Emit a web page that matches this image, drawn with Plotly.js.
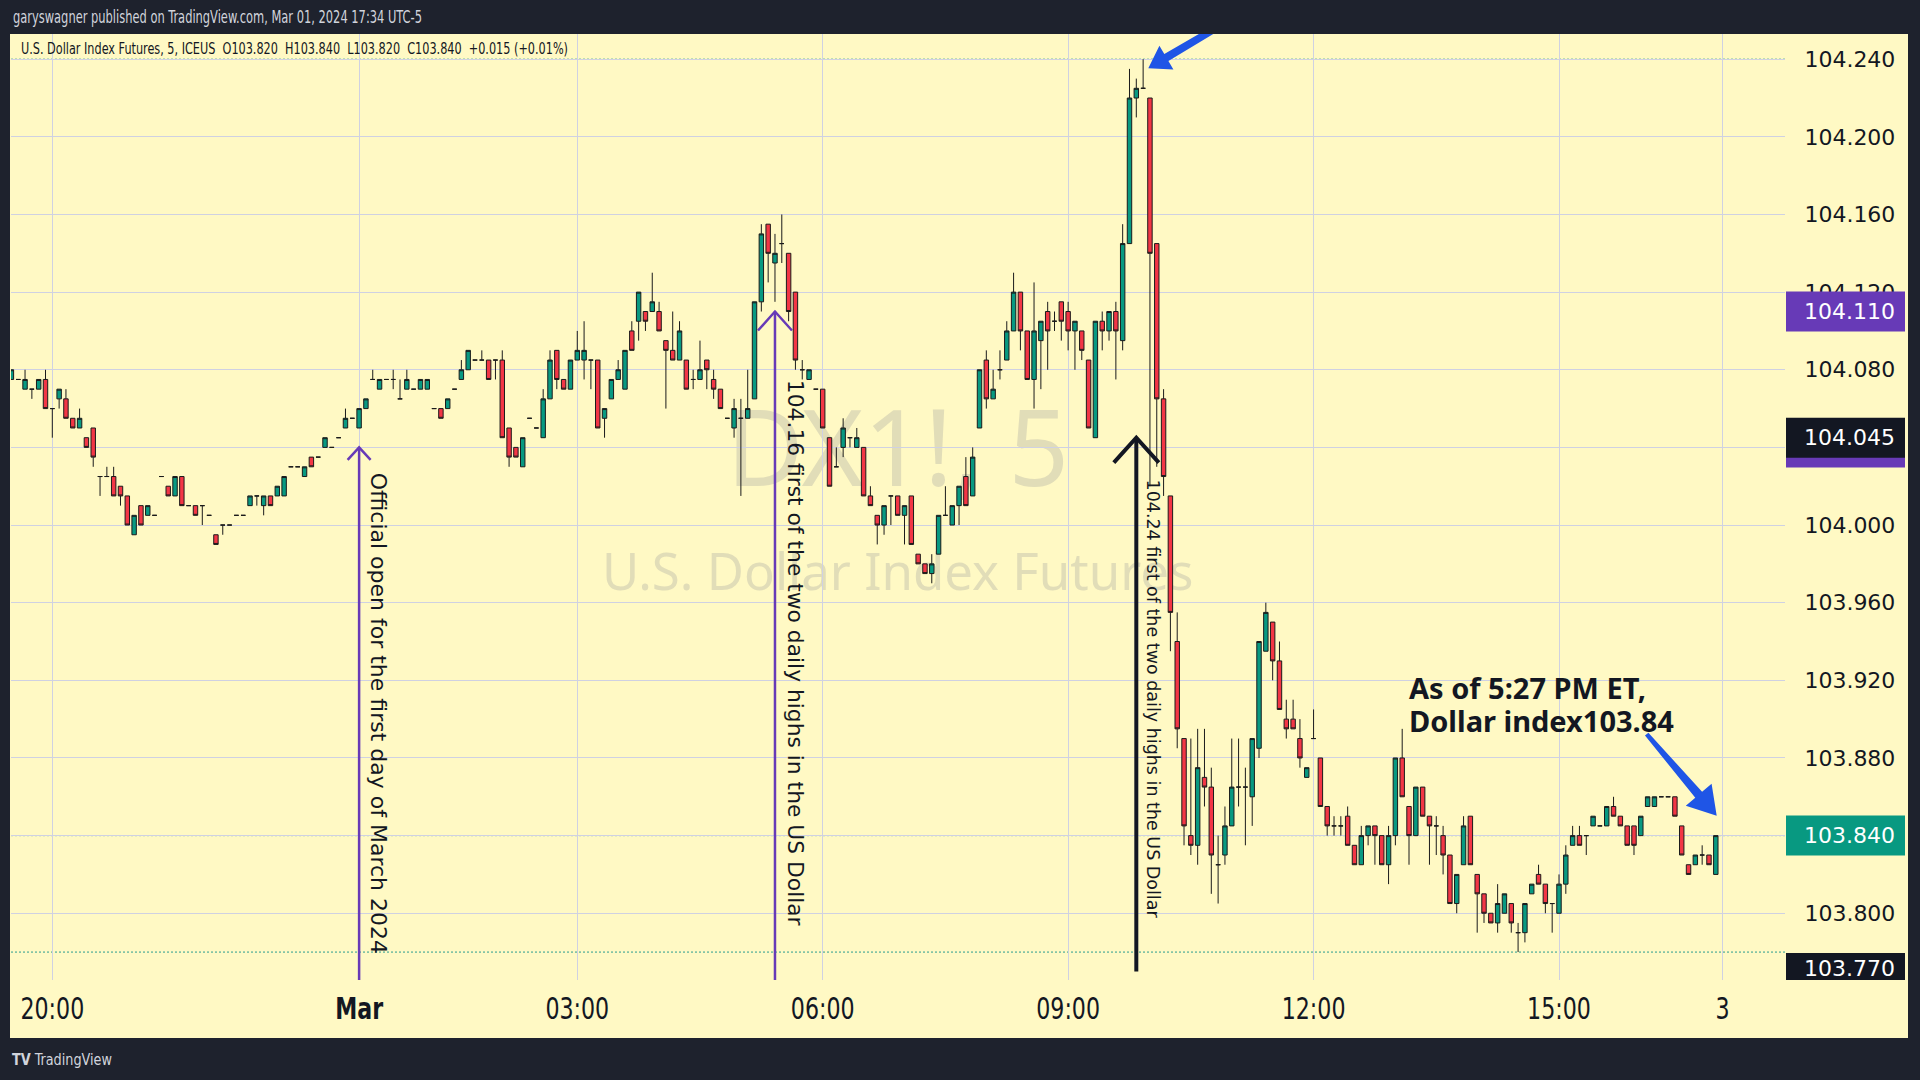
<!DOCTYPE html>
<html><head><meta charset="utf-8">
<script src="https://cdn.plot.ly/plotly-3.0.1.min.js"></script>
<style>html,body{margin:0;padding:0;background:#1e222d;overflow:hidden}#chart{width:1920px;height:1080px}</style>
</head><body><div id="chart"></div>
<script>
// ---- DATA: 5-minute bars, DX1! (U.S. Dollar Index Futures), Feb 29 evening -> Mar 01 2024 ----
const openP = [
104.075,104.075,104.07,104.07,104.07,104.075,104.06,104.065,104.065,104.055,
104.05,104.045,104.05,104.025,104.025,104.025,104.02,104.015,103.995,104.01,
104.005,104.005,104.025,104.02,104.015,104.025,104.01,104.01,104.01,104.005,
103.995,104.00,104.00,104.005,104.005,104.01,104.015,104.01,104.015,104.015,
104.015,104.03,104.03,104.025,104.035,104.035,104.04,104.04,104.045,104.05,
104.055,104.05,104.06,104.075,104.07,104.075,104.075,104.065,104.07,104.07,
104.07,104.07,104.06,104.06,104.06,104.07,104.075,104.08,104.085,104.085,
104.085,104.085,104.085,104.05,104.04,104.03,104.055,104.05,104.045,104.065,
104.09,104.075,104.07,104.085,104.085,104.085,104.085,104.055,104.065,104.075,
104.07,104.10,104.105,104.11,104.11,104.11,104.095,104.09,104.085,104.085,
104.075,104.075,104.085,104.075,104.07,104.055,104.05,104.055,104.055,104.065,
104.115,104.155,104.135,104.145,104.14,104.12,104.08,104.075,104.07,104.07,
104.045,104.03,104.04,104.045,104.04,104.04,104.015,104.005,104.00,104.015,
104.015,104.005,104.015,103.985,103.98,103.975,103.985,104.005,104.00,104.01,
104.025,104.015,104.05,104.085,104.065,104.08,104.085,104.10,104.12,104.10,
104.075,104.095,104.11,104.105,104.115,104.11,104.10,104.10,104.085,104.045,
104.105,104.10,104.11,104.095,104.145,104.22,104.225,104.22,104.145,104.065,
104.015,103.94,103.89,103.84,103.835,103.87,103.865,103.825,103.83,103.845,
103.865,103.865,103.86,103.885,103.935,103.95,103.93,103.90,103.90,103.89,
103.87,103.89,103.88,103.855,103.845,103.845,103.85,103.835,103.825,103.84,
103.845,103.84,103.825,103.84,103.88,103.855,103.84,103.865,103.85,103.845,
103.84,103.83,103.805,103.825,103.85,103.82,103.81,103.80,103.795,103.80,
103.805,103.79,103.79,103.81,103.82,103.815,103.805,103.80,103.815,103.835,
103.84,103.84,103.845,103.845,103.845,103.855,103.85,103.845,103.845,103.84,
103.855,103.855,103.86,103.86,103.86,103.845,103.825,103.825,103.83,103.83,
103.82];
const highP = [
104.08,104.075,104.08,104.07,104.075,104.08,104.06,104.07,104.07,104.055,
104.06,104.045,104.05,104.025,104.03,104.03,104.02,104.015,104.005,104.01,
104.01,104.005,104.025,104.02,104.025,104.025,104.01,104.01,104.01,104.005,
103.995,104.00,104.00,104.005,104.005,104.015,104.015,104.015,104.015,104.02,
104.025,104.03,104.03,104.03,104.035,104.035,104.045,104.04,104.045,104.06,
104.055,104.06,104.065,104.08,104.075,104.075,104.08,104.075,104.08,104.07,
104.075,104.075,104.06,104.06,104.065,104.07,104.085,104.09,104.085,104.09,
104.085,104.085,104.09,104.05,104.04,104.045,104.055,104.05,104.07,104.09,
104.09,104.075,104.085,104.10,104.105,104.085,104.085,104.06,104.075,104.085,
104.09,104.105,104.12,104.11,104.13,104.115,104.095,104.11,104.105,104.085,
104.08,104.095,104.085,104.08,104.07,104.055,104.065,104.065,104.08,104.115,
104.155,104.155,104.15,104.16,104.14,104.12,104.085,104.08,104.07,104.07,
104.045,104.04,104.055,104.045,104.05,104.04,104.02,104.005,104.01,104.015,
104.015,104.01,104.015,103.985,103.98,103.985,104.005,104.02,104.01,104.02,
104.035,104.04,104.08,104.09,104.08,104.09,104.105,104.13,104.12,104.10,
104.125,104.105,104.115,104.11,104.115,104.115,104.105,104.10,104.085,104.105,
104.11,104.11,104.115,104.155,104.235,104.23,104.24,104.22,104.145,104.07,
104.015,103.955,103.89,103.89,103.895,103.895,103.875,103.84,103.855,103.89,
103.89,103.875,103.89,103.94,103.96,103.95,103.94,103.91,103.91,103.90,
103.875,103.905,103.88,103.855,103.85,103.85,103.855,103.835,103.845,103.845,
103.845,103.84,103.845,103.88,103.895,103.855,103.865,103.865,103.85,103.85,
103.845,103.83,103.82,103.85,103.85,103.82,103.81,103.80,103.815,103.81,
103.805,103.795,103.805,103.815,103.825,103.815,103.805,103.82,103.835,103.845,
103.845,103.84,103.85,103.845,103.855,103.86,103.85,103.845,103.845,103.85,
103.86,103.86,103.86,103.86,103.86,103.845,103.825,103.83,103.835,103.83,
103.84];
const lowP = [
104.075,104.075,104.07,104.065,104.07,104.06,104.045,104.06,104.055,104.05,
104.05,104.04,104.03,104.015,104.025,104.015,104.01,104.00,103.995,104.00,
104.005,104.005,104.025,104.015,104.015,104.01,104.01,104.005,104.00,104.005,
103.99,103.995,104.00,104.005,104.005,104.01,104.01,104.005,104.01,104.015,
104.015,104.03,104.03,104.025,104.03,104.035,104.04,104.04,104.045,104.05,
104.055,104.05,104.06,104.075,104.07,104.075,104.07,104.065,104.07,104.07,
104.07,104.07,104.06,104.055,104.06,104.07,104.075,104.08,104.085,104.085,
104.075,104.075,104.045,104.03,104.035,104.03,104.055,104.05,104.045,104.065,
104.07,104.07,104.07,104.085,104.075,104.07,104.05,104.045,104.065,104.075,
104.07,104.09,104.095,104.10,104.11,104.10,104.06,104.085,104.085,104.07,
104.07,104.075,104.07,104.065,104.06,104.055,104.045,104.015,104.055,104.065,
104.11,104.125,104.115,104.135,104.105,104.08,104.075,104.075,104.07,104.05,
104.02,104.03,104.035,104.04,104.04,104.015,104.01,103.99,103.995,104.00,
104.005,103.99,103.99,103.98,103.975,103.97,103.985,104.005,104.00,104.00,
104.01,104.015,104.05,104.06,104.065,104.075,104.085,104.10,104.09,104.075,
104.06,104.07,104.08,104.10,104.095,104.09,104.08,104.085,104.05,104.045,
104.09,104.095,104.075,104.09,104.145,104.21,104.225,104.02,104.03,104.015,
103.935,103.885,103.835,103.83,103.825,103.855,103.81,103.805,103.825,103.845,
103.855,103.835,103.845,103.88,103.935,103.92,103.905,103.89,103.895,103.875,
103.87,103.89,103.855,103.84,103.84,103.84,103.835,103.825,103.825,103.835,
103.825,103.825,103.815,103.835,103.86,103.825,103.84,103.85,103.825,103.83,
103.82,103.805,103.80,103.825,103.825,103.79,103.795,103.795,103.79,103.80,
103.79,103.78,103.785,103.81,103.815,103.80,103.79,103.80,103.81,103.835,
103.835,103.83,103.845,103.845,103.845,103.85,103.845,103.835,103.83,103.84,
103.855,103.855,103.86,103.86,103.85,103.83,103.82,103.825,103.825,103.825,
103.82];
const closeP = [
104.08,104.075,104.075,104.07,104.075,104.06,104.06,104.07,104.055,104.05,
104.055,104.04,104.035,104.025,104.025,104.015,104.015,104.00,104.005,104.00,
104.01,104.005,104.025,104.015,104.025,104.01,104.01,104.005,104.01,104.005,
103.99,104.00,104.00,104.005,104.005,104.015,104.015,104.015,104.01,104.02,
104.025,104.03,104.03,104.03,104.03,104.035,104.045,104.04,104.045,104.055,
104.055,104.06,104.065,104.075,104.075,104.075,104.075,104.065,104.075,104.07,
104.075,104.075,104.06,104.055,104.065,104.07,104.08,104.09,104.085,104.085,
104.075,104.085,104.045,104.035,104.035,104.045,104.055,104.05,104.065,104.085,
104.075,104.07,104.085,104.09,104.09,104.085,104.05,104.06,104.075,104.08,
104.09,104.09,104.12,104.105,104.115,104.10,104.09,104.085,104.10,104.07,
104.075,104.08,104.08,104.07,104.06,104.055,104.06,104.055,104.06,104.115,
104.15,104.14,104.14,104.145,104.11,104.085,104.08,104.08,104.07,104.05,
104.02,104.03,104.05,104.045,104.045,104.015,104.01,104.00,104.01,104.015,
104.005,104.01,103.99,103.98,103.975,103.98,104.005,104.005,104.01,104.02,
104.01,104.035,104.08,104.065,104.07,104.08,104.10,104.12,104.10,104.075,
104.10,104.105,104.10,104.105,104.105,104.10,104.105,104.09,104.05,104.105,
104.10,104.11,104.10,104.145,104.22,104.225,104.225,104.14,104.065,104.025,
103.955,103.895,103.845,103.835,103.875,103.865,103.83,103.825,103.845,103.865,
103.865,103.865,103.89,103.94,103.955,103.93,103.905,103.895,103.895,103.88,
103.875,103.89,103.855,103.845,103.845,103.845,103.835,103.825,103.84,103.845,
103.84,103.825,103.84,103.88,103.86,103.84,103.865,103.85,103.845,103.845,
103.83,103.805,103.82,103.845,103.825,103.81,103.80,103.795,103.805,103.81,
103.795,103.79,103.805,103.815,103.815,103.805,103.805,103.815,103.83,103.84,
103.835,103.84,103.85,103.845,103.855,103.85,103.845,103.835,103.835,103.85,
103.86,103.86,103.86,103.86,103.85,103.83,103.82,103.83,103.83,103.825,
103.84];
const timeTickBars  = [6, 51, 83, 119, 155, 191, 227, 251];
const timeTickText  = ['20:00', '<b>Mar</b>', '03:00', '06:00', '09:00', '12:00', '15:00', '3'];
const priceTicks    = [103.80, 103.84, 103.88, 103.92, 103.96, 104.00, 104.04, 104.08, 104.12, 104.16, 104.20, 104.24];
const priceTickText = ['103.800', '', '103.880', '103.920', '103.960', '104.000', '', '104.080', '104.120', '104.160', '104.200', '104.240'];
const sessionHigh = 104.24, sessionLow = 103.78, lastPrice = 103.84;
const headerText = 'garyswagner published on TradingView.com, Mar 01, 2024 17:34 UTC-5';
const legendText = 'U.S. Dollar Index Futures, 5, ICEUS\u00a0\u00a0O103.820\u00a0\u00a0H103.840\u00a0\u00a0L103.820\u00a0\u00a0C103.840\u00a0\u00a0+0.015 (+0.01%)';

// ---- LAYOUT GEOMETRY ----
const W = 1920, H = 1080;
const M = {l: 11, r: 135, t: 34, b: 100};
const PW = W - M.l - M.r, PH = H - M.t - M.b;
const XR = [-0.06, 260.15];
const YR = [103.76561, 104.25298];
const px2x = px => (px - M.l) / PW;
const py2y = py => (H - M.b - py) / PH;
const pr2y = p => (p - YR[0]) / (YR[1] - YR[0]);

const xIdx = openP.map((_, i) => i);

const YELLOW = '#fff9c4', DARK = '#1e222d', INK = '#131722';
const GREEN = '#089981', RED = '#f23645', PURPLE = '#673ab7', BLUE = '#1f55e6';
const GRID = '#cfd1e2';

const trace = {
  type: 'candlestick', x: xIdx, open: openP, high: highP, low: lowP, close: closeP,
  increasing: {line: {color: '#1b1b1b', width: 1}, fillcolor: GREEN},
  decreasing: {line: {color: '#1b1b1b', width: 1}, fillcolor: RED},
  whiskerwidth: 0, hoverinfo: 'skip', showlegend: false
};

function arrowPath(dx, dy, len, headLen, headHalf, baseHalf, tailHalf) {
  const n = Math.hypot(dx, dy), ux = dx / n, uy = dy / n, nx = -uy, ny = ux;
  const P = (a, b) => [ux * a + nx * b, uy * a + ny * b];
  const pts = [[0, 0], P(headLen, headHalf), P(headLen, baseHalf), P(len, tailHalf),
               P(len, -tailHalf), P(headLen, -baseHalf), P(headLen, -headHalf)];
  return 'M' + pts.map(p => p[0].toFixed(1) + ',' + (-p[1]).toFixed(1)).join(' L') + ' Z';
}
function chevron(half, back) {
  return `M${-half},${-back} L0,0 L${half},${-back}`;
}

const shapes = [
  {type: 'rect', xref: 'paper', yref: 'paper', layer: 'below', x0: px2x(10), x1: px2x(1908), y0: py2y(1038), y1: 1,
   line: {width: 0}, fillcolor: YELLOW},
  {type: 'rect', xref: 'x', yref: 'y', layer: 'below', x0: 100, x1: 160, y0: 104.00, y1: 104.075,
   line: {width: 0}, fillcolor: 'rgba(0,0,0,0)',
   label: {text: 'DX1!, 5', textposition: 'middle center', font: {family: 'Noto Sans', size: 106, color: 'rgba(120,122,140,0.22)'}}},
  {type: 'rect', xref: 'x', yref: 'y', layer: 'below', x0: 100, x1: 160, y0: 103.96, y1: 103.99,
   line: {width: 0}, fillcolor: 'rgba(0,0,0,0)',
   label: {text: 'U.S. Dollar Index Futures', textposition: 'middle center', font: {family: 'Noto Sans', size: 51, color: 'rgba(120,122,140,0.22)'}}},
  {type: 'line', xref: 'paper', yref: 'y', layer: 'below', x0: 0, x1: 1, y0: sessionHigh, y1: sessionHigh, line: {color: '#2a9d8f', width: 1, dash: '2px,2px'}},
  {type: 'line', xref: 'paper', yref: 'y', layer: 'below', x0: 0, x1: 1, y0: lastPrice, y1: lastPrice, line: {color: '#2a9d8f', width: 1, dash: '2px,2px'}},
  {type: 'line', xref: 'paper', yref: 'y', layer: 'below', x0: 0, x1: 1, y0: sessionLow, y1: sessionLow, line: {color: '#2a9d8f', width: 1, dash: '2px,2px'}},
  {type: 'line', xref: 'x', yref: 'y', x0: 51, x1: 51, y0: 103.70, y1: 104.04, line: {color: PURPLE, width: 2.5}},
  {type: 'path', xref: 'x', yref: 'y', xsizemode: 'pixel', ysizemode: 'pixel', xanchor: 51, yanchor: 104.04,
   path: chevron(11.5, 12.5), line: {color: PURPLE, width: 2.5}},
  {type: 'line', xref: 'x', yref: 'y', x0: 112, x1: 112, y0: 103.70, y1: 104.11, line: {color: PURPLE, width: 2.5}},
  {type: 'path', xref: 'x', yref: 'y', xsizemode: 'pixel', ysizemode: 'pixel', xanchor: 112, yanchor: 104.11,
   path: chevron(17, 19), line: {color: PURPLE, width: 2.5}},
  {type: 'line', xref: 'x', yref: 'y', x0: 165, x1: 165, y0: 103.77, y1: 104.045, line: {color: INK, width: 4}},
  {type: 'path', xref: 'x', yref: 'y', xsizemode: 'pixel', ysizemode: 'pixel', xanchor: 165, yanchor: 104.045,
   path: chevron(22.5, 25), line: {color: INK, width: 4}},
  {type: 'path', xref: 'x', yref: 'y', xsizemode: 'pixel', ysizemode: 'pixel', xanchor: 166.76, yanchor: 104.2353,
   path: arrowPath(61.7, -36.6, 90, 21, 13.7, 4, 3.5), line: {width: 0}, fillcolor: BLUE},
  {type: 'path', xref: 'x', yref: 'y', xsizemode: 'pixel', ysizemode: 'pixel', xanchor: 250.13, yanchor: 103.8502,
   path: arrowPath(-70, -81.7, 107.6, 27.7, 17, 4.5, 2.2), line: {width: 0}, fillcolor: BLUE}
];

const boxHalf = 20 / PH;
const boxes = [
  {p: 104.04, text: '', bg: PURPLE},
  {p: 104.11, text: '104.110', bg: PURPLE},
  {p: 104.045, text: '104.045', bg: INK},
  {p: 103.84, text: '103.840', bg: GREEN},
  {p: 103.7715, text: '103.770', bg: INK, clipBottom: true}
];
const annotations = [];
boxes.forEach(b => {
  const yc = pr2y(b.p);
  const top = b.clipBottom ? py2y(953) : yc + boxHalf;
  const bot = b.clipBottom ? 0 : yc - boxHalf;
  shapes.push({type: 'rect', xref: 'paper', yref: 'paper', layer: 'above', x0: px2x(1786), x1: px2x(1905), y0: bot, y1: top,
               line: {width: 0}, fillcolor: b.bg});
  if (b.text) annotations.push({xref: 'paper', yref: 'paper', x: px2x(1802), y: yc, xanchor: 'left', yanchor: 'middle', showarrow: false,
                    text: b.text, font: {family: 'DejaVu Sans', size: 22, color: '#ffffff'}});
});

const NARROW = 'Liberation Sans Narrow, Arial Narrow, DejaVu Sans Condensed, Noto Sans, sans-serif';
const squeezeList = [];
function addSqueezed(ann, width) { squeezeList.push([annotations.length, width]); annotations.push(ann); }
addSqueezed({xref: 'paper', yref: 'paper', x: px2x(11), y: py2y(17), xanchor: 'left', yanchor: 'middle', align: 'left', showarrow: false,
   text: headerText, font: {family: NARROW, size: 17, color: '#d1d4dc'}}, 409);
addSqueezed({xref: 'paper', yref: 'paper', x: px2x(19), y: py2y(49), xanchor: 'left', yanchor: 'middle', align: 'left', showarrow: false,
   text: legendText, font: {family: NARROW, size: 16, color: INK}}, 547);
addSqueezed({xref: 'paper', yref: 'paper', x: px2x(10), y: py2y(1059), xanchor: 'left', yanchor: 'middle', align: 'left', showarrow: false,
   text: '<b>TV</b> TradingView', font: {family: NARROW, size: 16, color: '#d1d4dc'}}, 100);
annotations.push(
  {xref: 'x', yref: 'y', x: 53.9, y: 104.0278, xanchor: 'center', yanchor: 'top', showarrow: false, textangle: 90,
   text: 'Official open for the first day of March 2024', font: {family: 'DejaVu Sans', size: 22, color: INK}},
  {xref: 'x', yref: 'y', x: 115.0, y: 104.0756, xanchor: 'center', yanchor: 'top', showarrow: false, textangle: 90,
   text: '104.16 first of the two daily highs in the US Dollar', font: {family: 'DejaVu Sans', size: 21.8, color: INK}},
  {xref: 'x', yref: 'y', x: 167.4, y: 104.0244, xanchor: 'center', yanchor: 'top', showarrow: false, textangle: 90,
   text: '104.24 first of the two daily highs in the US Dollar', font: {family: 'DejaVu Sans', size: 17.5, color: INK}},
  {xref: 'x', yref: 'y', x: 204.7, y: 103.9165, xanchor: 'left', yanchor: 'middle', showarrow: false,
   text: '<b>As of 5:27 PM ET,</b>', font: {family: 'Noto Sans', size: 29, color: INK}},
  {xref: 'x', yref: 'y', x: 204.7, y: 103.8995, xanchor: 'left', yanchor: 'middle', showarrow: false,
   text: '<b>Dollar index103.84</b>', font: {family: 'Noto Sans', size: 29, color: INK}}
);

const layout = {
  width: W, height: H, margin: M,
  paper_bgcolor: DARK, plot_bgcolor: YELLOW,
  showlegend: false, hovermode: false, dragmode: false,
  boxgap: 0.35, boxgroupgap: 0,
  xaxis: {
    range: XR, type: 'linear', rangeslider: {visible: false},
    tickmode: 'array', tickvals: timeTickBars, ticktext: timeTickText,
    showgrid: true, gridcolor: GRID, gridwidth: 1, zeroline: false, showline: false,
    ticks: 'outside', ticklen: 2, tickcolor: 'rgba(0,0,0,0)',
    tickfont: {family: NARROW, size: 30, color: INK}
  },
  yaxis: {
    range: YR, side: 'right', tickmode: 'array', tickvals: priceTicks, ticktext: priceTickText,
    showgrid: true, gridcolor: GRID, gridwidth: 1, zeroline: false, showline: false,
    ticks: 'outside', ticklen: 14, tickcolor: 'rgba(0,0,0,0)',
    tickfont: {family: 'DejaVu Sans', size: 22, color: INK}
  },
  shapes: shapes, annotations: annotations
};

function squeezeText(el, factor, target) {
  if (!el) return;
  const len = el.getComputedTextLength();
  const goal = target ? Math.min(target, len) : len * factor;
  el.setAttribute('textLength', goal.toFixed(1));
  el.setAttribute('lengthAdjust', 'spacingAndGlyphs');
}

Plotly.newPlot('chart', [trace], layout, {staticPlot: true, displayModeBar: false}).then(gd => {
  gd.querySelectorAll('.xtick text').forEach(t => squeezeText(t, 0.82));
  squeezeList.forEach(([idx, width]) => {
    const t = gd.querySelector(`g.annotation[data-index="${idx}"] text.annotation-text`);
    squeezeText(t, 1, width);
  });
});
</script>
</body></html>
